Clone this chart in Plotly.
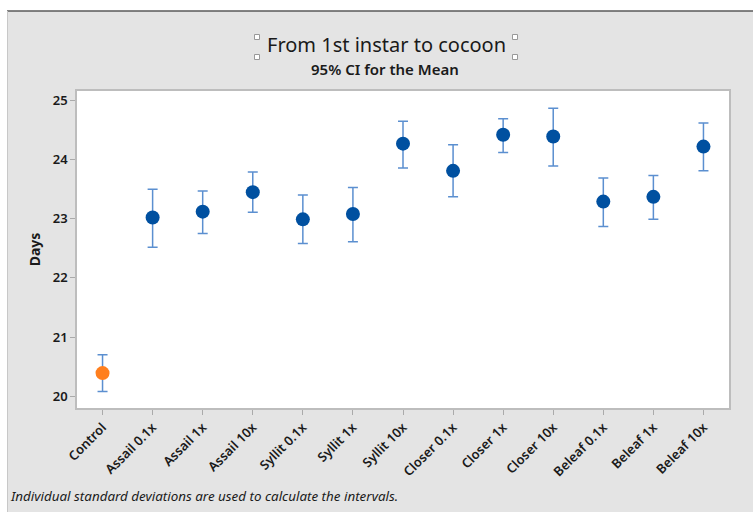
import plotly.graph_objects as go

categories = ["Control", "Assail 0.1x", "Assail 1x", "Assail 10x", "Syllit 0.1x", "Syllit 1x",
              "Syllit 10x", "Closer 0.1x", "Closer 1x", "Closer 10x", "Beleaf 0.1x", "Beleaf 1x", "Beleaf 10x"]
means = [20.39, 23.02, 23.12, 23.45, 22.99, 23.08, 24.27, 23.81, 24.42, 24.39, 23.29, 23.37, 24.22]
upper = [20.70, 23.50, 23.47, 23.79, 23.40, 23.53, 24.65, 24.25, 24.69, 24.87, 23.69, 23.73, 24.62]
lower = [20.08, 22.52, 22.75, 23.11, 22.58, 22.61, 23.86, 23.37, 24.12, 23.89, 22.87, 22.99, 23.81]
point_colors = ["#ff7f1e"] + ["#0050a0"] * 12
y_ticks = [20, 21, 22, 23, 24, 25]

W, H = 753, 512
L, R, T, B = 77, 729, 91, 408  # plot area in pixels

def px(x):
    return (x - L) / (R - L)

def py(y):
    return (B - y) / (B - T)

err_plus = [u - m for u, m in zip(upper, means)]
err_minus = [m - l for m, l in zip(means, lower)]

fig = go.Figure()
fig.add_trace(go.Scatter(
    x=list(range(len(categories))), y=means, mode="markers",
    marker=dict(size=14, color=point_colors, line=dict(width=0)),
    error_y=dict(type="data", symmetric=False, array=err_plus, arrayminus=err_minus,
                 color="#5b8fd0", thickness=1.5, width=5),
    showlegend=False, hoverinfo="skip"))

FONT = "Noto Sans"
shapes = [
    dict(type="rect", xref="paper", yref="paper", x0=px(-5), x1=px(W + 5), y0=py(11), y1=py(-5),
         fillcolor="white", line=dict(width=0), layer="below"),
    dict(type="rect", xref="paper", yref="paper", x0=px(-5), x1=px(7), y0=py(W), y1=py(-5),
         fillcolor="white", line=dict(width=0), layer="below"),
    dict(type="line", xref="paper", yref="paper", x0=px(7), x1=px(W + 5), y0=py(11), y1=py(11),
         line=dict(color="#5a5a5a", width=1.5)),
    dict(type="line", xref="paper", yref="paper", x0=px(7.5), x1=px(7.5), y0=py(11), y1=py(W),
         line=dict(color="#c8c8c8", width=1)),
]
for hx in (257, 515):
    for hy in (37, 57):
        shapes.append(dict(type="rect", xref="paper", yref="paper",
                           x0=px(hx - 2.5), x1=px(hx + 2.5), y0=py(hy + 2.5), y1=py(hy - 2.5),
                           fillcolor="white", line=dict(color="#999999", width=1)))

annotations = [
    dict(text="From 1st instar to cocoon", xref="paper", yref="paper", x=px(386), y=py(44),
         xanchor="center", yanchor="middle", showarrow=False,
         font=dict(family=FONT, size=20, color="#1a1a1a")),
    dict(text="95% CI for the Mean", xref="paper", yref="paper", x=px(385), y=py(69),
         xanchor="center", yanchor="middle", showarrow=False,
         font=dict(family=FONT, size=15, color="#1a1a1a", weight=600)),
    dict(text="<i>Individual standard deviations are used to calculate the intervals.</i>",
         xref="paper", yref="paper", x=px(8), y=py(496), xanchor="left", yanchor="middle",
         showarrow=False, font=dict(family=FONT, size=13.4, color="#1a1a1a")),
]

fig.update_layout(
    width=W, height=H,
    margin=dict(l=L, r=W - R, t=T, b=H - B, pad=0),
    paper_bgcolor="#e4e4e4", plot_bgcolor="white",
    shapes=shapes, annotations=annotations,
    font=dict(family=FONT, color="#1a1a1a"),
    xaxis=dict(range=[-0.51, 12.51], tickmode="array", tickvals=list(range(len(categories))),
               ticktext=categories, tickangle=-45, showgrid=False, zeroline=False,
               showline=True, linecolor="#bdbdbd", linewidth=1.5, mirror=True,
               ticks="outside", ticklen=5, tickcolor="#aaaaaa",
               tickfont=dict(family=FONT, size=13, color="#1a1a1a", weight=600)),
    yaxis=dict(range=[19.80, 25.16], tickmode="array", tickvals=y_ticks,
               showgrid=False, zeroline=False, showline=True, linecolor="#bdbdbd",
               linewidth=1.5, mirror=True, ticks="outside", ticklen=5, tickcolor="#aaaaaa",
               tickfont=dict(family=FONT, size=13, color="#1a1a1a", weight=600),
               title=dict(text="<b>Days</b>", font=dict(family=FONT, size=14, color="#1a1a1a"),
                          standoff=9)),
)

fig.write_html("out.html", config={"displayModeBar": False},
               post_script="document.body.style.margin='0';document.body.style.overflow='hidden';")
